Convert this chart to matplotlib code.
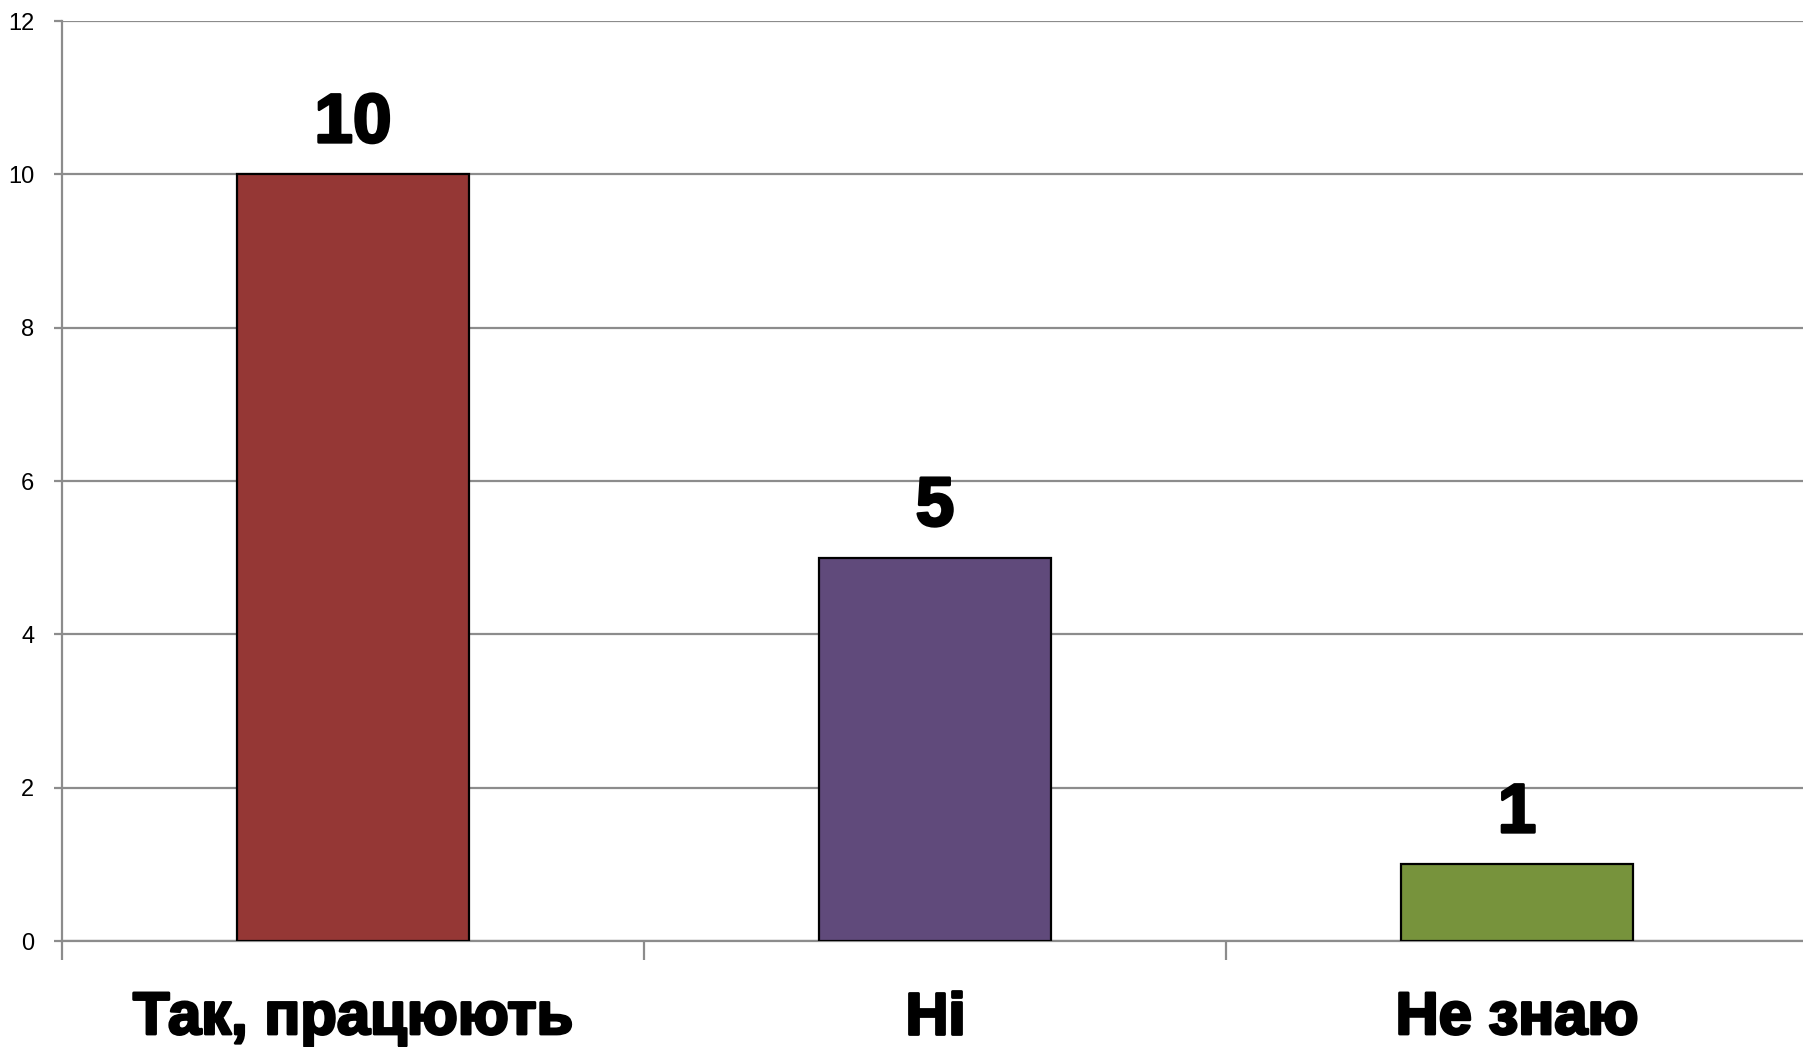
import matplotlib.pyplot as plt
import matplotlib.patheffects as pe
import numpy as np

categories = ['Так, працюють', 'Ні', 'Не знаю']
values = [10, 5, 1]
bar_colors = ['#953735', '#604A7B', '#77933C']
yticks = [0, 2, 4, 6, 8, 10, 12]

plt.rcParams['font.family'] = ['Liberation Sans', 'DejaVu Sans']

fig = plt.figure(figsize=(18.03, 10.47), dpi=100)
# axes placed by hand so the plot runs off the right edge like the original
ax = fig.add_axes([62/1803, 1-941/1047, 1746/1803, (941-21)/1047])

xpos = np.arange(len(categories))
bars = ax.bar(xpos, values, width=0.4, color=bar_colors, edgecolor='black', linewidth=1.6, zorder=3)

heavy = [pe.withStroke(linewidth=2, foreground='black')]
for x, v in zip(xpos, values):
    ax.annotate(str(v), (x, v), xytext=(0, 13), textcoords='offset points',
                ha='center', va='bottom', fontsize=50, fontweight='bold',
                path_effects=heavy)

ax.set_xlim(-0.5, 2.5)
ax.set_ylim(0, 12)
ax.set_yticks(yticks)
ax.set_yticklabels([str(t) for t in yticks], fontsize=17)
ax.yaxis.grid(True, color='#8c8c8c', linewidth=1.6, zorder=0)

# category labels sit between boundary ticks
ax.set_xticks([-0.5, 0.5, 1.5], minor=False)
ax.set_xticklabels([])
ax.set_xticks(xpos, minor=True)
ax.set_xticklabels(categories, minor=True, fontsize=43, fontweight='bold')
for lbl in ax.get_xticklabels(minor=True):
    lbl.set_path_effects(heavy)
ax.tick_params(axis='x', which='major', length=14, width=1.6, color='#8c8c8c')
ax.tick_params(axis='x', which='minor', length=0, pad=36)
ax.tick_params(axis='y', length=6, width=1.6, color='#8c8c8c', pad=14)

for s in ['top', 'right']:
    ax.spines[s].set_visible(False)
for s in ['left', 'bottom']:
    ax.spines[s].set_color('#8c8c8c')
    ax.spines[s].set_linewidth(1.6)

fig.savefig('out.png', dpi=100)
